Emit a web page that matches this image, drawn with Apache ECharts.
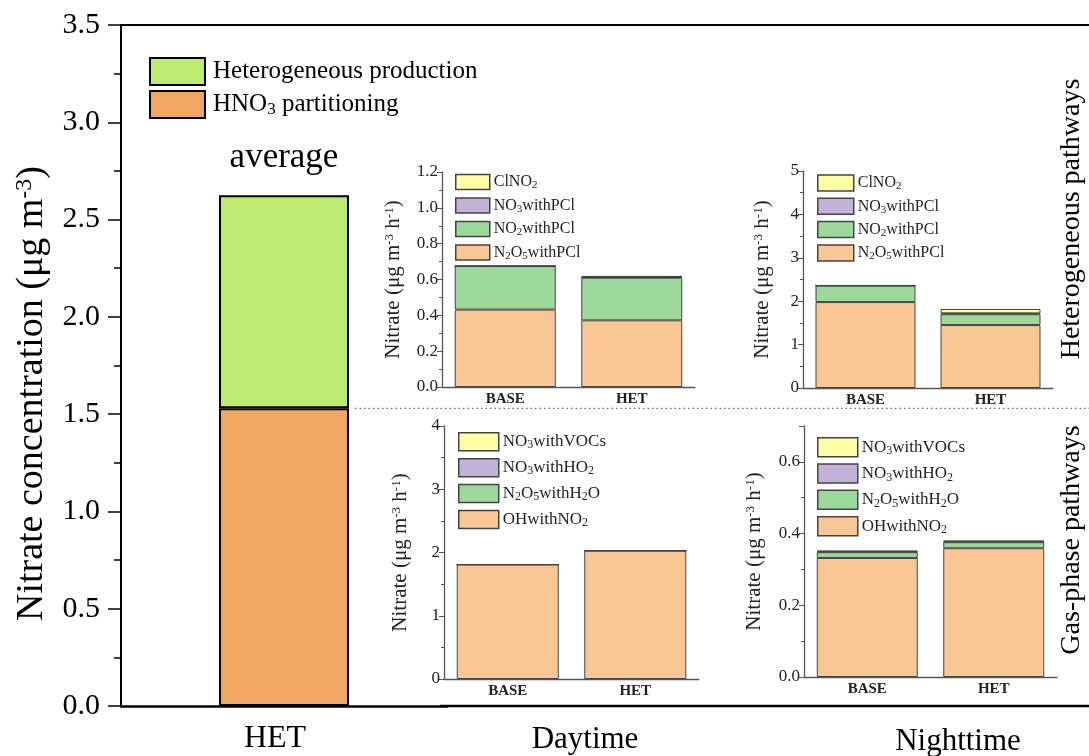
<!DOCTYPE html>
<html>
<head>
<meta charset="utf-8">
<script src="https://cdn.jsdelivr.net/npm/echarts@6/dist/echarts.min.js"></script>
<style>html,body{margin:0;padding:0;background:#fff}#c{width:1089px;height:756px}</style>
</head>
<body>
<div id="c"></div>
<script>
// ---------- data ----------
const mainCats = ['HET'];
const mainHNO3 = [1.53];
const mainHetero = [1.095];
const insetCats = ['BASE', 'HET'];
// Daytime heterogeneous pathways
const dayN2O5PCl = [0.432, 0.372];
const dayNO2PCl = [0.243, 0.238];
const dayNO3PCl = [0.0, 0.003];
const dayClNO2 = [0.0, 0.007];
// Nighttime heterogeneous pathways
const nightN2O5PCl = [1.98, 1.45];
const nightNO2PCl = [0.38, 0.25];
const nightNO3PCl = [0.0, 0.02];
const nightClNO2 = [0.0, 0.10];
// Daytime gas-phase pathways
const dayOHNO2 = [1.81, 2.03];
const dayN2O5H2O = [0.0, 0.0];
const dayNO3HO2 = [0.0, 0.0];
const dayNO3VOCs = [0.0, 0.0];
// Nighttime gas-phase pathways
const nightOHNO2 = [0.332, 0.359];
const nightN2O5H2O = [0.016, 0.017];
const nightNO3HO2 = [0.002, 0.002];
const nightNO3VOCs = [0.002, 0.002];

const hetNames = ['N2O5withPCl', 'NO2withPCl', 'NO3withPCl', 'ClNO2'];
const gasNames = ['OHwithNO2', 'N2O5withH2O', 'NO3withHO2', 'NO3withVOCs'];

// ---------- style ----------
const FONT = "'Liberation Serif','Times New Roman',serif";
const C_PEACH = '#F9C796', C_GREEN = '#9DD89B', C_PURPLE = '#C3B2D8', C_YELLOW = '#FFFFA6';
const insetColors = [C_PEACH, C_GREEN, C_PURPLE, C_YELLOW];

const chart = echarts.init(document.getElementById('c'), null, {renderer: 'canvas'});

function subText(name) { return name.replace(/(\d)/g, '{s|$1}'); }

function insetX(gi) {
  return {
    type: 'category', gridIndex: gi, data: insetCats,
    axisLine: {lineStyle: {color: '#555', width: 1.3}},
    axisTick: {show: false},
    axisLabel: {fontFamily: FONT, fontSize: 15, fontWeight: 'bold', color: '#222', margin: 5}
  };
}
function insetY(gi, max, interval, gap, fmt) {
  return {
    type: 'value', gridIndex: gi, min: 0, max: max, interval: interval,
    name: 'Nitrate (μg m{p|-3} h{p|-1})', nameLocation: 'middle', nameRotate: 90, nameGap: gap,
    nameTextStyle: {fontFamily: FONT, fontSize: 21, color: '#222',
      rich: {p: {fontFamily: FONT, fontSize: 13, verticalAlign: 'top', color: '#222'}}},
    axisLine: {show: true, lineStyle: {color: '#555', width: 1.3}},
    axisTick: {show: true, length: 5, lineStyle: {color: '#555'}},
    minorTick: {show: true, splitNumber: 2, length: 3, lineStyle: {color: '#555'}},
    splitLine: {show: false},
    axisLabel: {fontFamily: FONT, fontSize: 17, color: '#222', margin: 4, formatter: fmt, showMaxLabel: max !== 0.7}
  };
}
function insetSeries(names, arrays, gi, stack, bw) {
  return names.map((n, i) => ({
    name: n, type: 'bar', xAxisIndex: gi, yAxisIndex: gi, stack: stack,
    data: arrays[i], barWidth: bw,
    itemStyle: {color: insetColors[i], borderColor: '#444', borderWidth: 1},
    emphasis: {disabled: true}
  }));
}
function insetLegend(names, left, top, iw, ih, lh, gap, fs) {
  return {
    orient: 'vertical', left: left - 5, top: top - 5, itemWidth: iw, itemHeight: ih, itemGap: gap,
    icon: 'rect', data: names.slice().reverse(),
    selectedMode: false,
    itemStyle: {borderColor: '#444', borderWidth: 1.5},
    formatter: subText,
    textStyle: {fontFamily: FONT, fontSize: fs, color: '#222', lineHeight: lh, padding: [0, 0, 0, -1],
      rich: {s: {fontFamily: FONT, fontSize: Math.round(fs * 0.68), verticalAlign: 'bottom', color: '#222', lineHeight: lh, padding: [4, 0, 0, 0]}}}
  };
}

const option = {
  animation: false,
  backgroundColor: '#fff',
  grid: [
    {left: 121, top: 25, width: 326, height: 681},
    {left: 442, top: 172, width: 253, height: 215},
    {left: 803, top: 171, width: 250, height: 217},
    {left: 444, top: 426, width: 255, height: 253},
    {left: 804, top: 426, width: 253, height: 251}
  ],
  xAxis: [
    {type: 'category', gridIndex: 0, data: mainCats,
     axisLine: {lineStyle: {color: '#000', width: 2.5}}, axisTick: {show: false},
     axisLabel: {fontFamily: FONT, fontSize: 32, color: '#000', margin: 17, padding: [0, 18, 0, 0]}},
    insetX(1), insetX(2), insetX(3), insetX(4)
  ],
  yAxis: [
    {type: 'value', gridIndex: 0, min: 0, max: 3.5, interval: 0.5,
     name: 'Nitrate concentration (μg m{p|-3})', nameLocation: 'middle', nameRotate: 90, nameGap: 70,
     nameTextStyle: {fontFamily: FONT, fontSize: 38, color: '#000', padding: [0, 56, 0, 0],
       rich: {p: {fontFamily: FONT, fontSize: 24, verticalAlign: 'top', color: '#000'}}},
     axisLine: {show: true, lineStyle: {color: '#000', width: 2}},
     axisTick: {show: true, length: 13, lineStyle: {color: '#000', width: 1.5}},
     minorTick: {show: true, splitNumber: 2, length: 7, lineStyle: {color: '#000', width: 1.5}},
     splitLine: {show: false},
     axisLabel: {fontFamily: FONT, fontSize: 30, color: '#000', margin: 21, formatter: v => v.toFixed(1)}},
    insetY(1, 1.2, 0.2, 38, v => v.toFixed(1)),
    insetY(2, 5, 1, 30, v => String(v)),
    insetY(3, 4, 1, 33, v => String(v)),
    insetY(4, 0.7, 0.2, 39, v => v.toFixed(1))
  ],
  legend: [
    {orient: 'vertical', left: 144, top: 52, itemWidth: 55, itemHeight: 27, itemGap: 4, icon: 'rect',
     selectedMode: false, data: ['Heterogeneous production', 'HNO3 partitioning'],
     itemStyle: {borderColor: '#000', borderWidth: 2},
     formatter: subText,
     textStyle: {fontFamily: FONT, fontSize: 25, color: '#000', padding: [0, 0, 0, 3], lineHeight: 27,
       rich: {s: {fontFamily: FONT, fontSize: 17, verticalAlign: 'bottom', color: '#000', lineHeight: 27, padding: [6, 0, 0, 0]}}}},
    insetLegend(hetNames, 455, 173, 34, 15, 18, 5.5, 16),
    insetLegend(hetNames, 817, 174, 36, 16, 18, 5.3, 16),
    insetLegend(gasNames, 458, 432, 40, 18, 19, 6.4, 17),
    insetLegend(gasNames, 817, 437, 40, 19, 20, 5.8, 17)
  ],
  series: [
    {name: 'HNO3 partitioning', type: 'bar', xAxisIndex: 0, yAxisIndex: 0, stack: 'main', data: mainHNO3, barWidth: 130,
     itemStyle: {color: '#F2A664', borderColor: '#000', borderWidth: 2}, emphasis: {disabled: true}},
    {name: 'Heterogeneous production', type: 'bar', xAxisIndex: 0, yAxisIndex: 0, stack: 'main', data: mainHetero, barWidth: 130,
     itemStyle: {color: '#BDEB6F', borderColor: '#000', borderWidth: 2}, emphasis: {disabled: true}},
    ...insetSeries(hetNames, [dayN2O5PCl, dayNO2PCl, dayNO3PCl, dayClNO2], 1, 's1', 101),
    ...insetSeries(hetNames, [nightN2O5PCl, nightNO2PCl, nightNO3PCl, nightClNO2], 2, 's2', 100),
    ...insetSeries(gasNames, [dayOHNO2, dayN2O5H2O, dayNO3HO2, dayNO3VOCs], 3, 's3', 102),
    ...insetSeries(gasNames, [nightOHNO2, nightN2O5H2O, nightNO3HO2, nightNO3VOCs], 4, 's4', 101)
  ],
  graphic: [
    {type: 'line', id: 'topline', shape: {x1: 121, y1: 25, x2: 1089, y2: 25}, style: {stroke: '#000', lineWidth: 2}, silent: true},
    {type: 'line', id: 'botline', shape: {x1: 440, y1: 706, x2: 1089, y2: 706}, style: {stroke: '#000', lineWidth: 2.5}, silent: true},
    {type: 'text', id: 'avg', x: 284, y: 158, style: {text: 'average', font: '35px ' + FONT, fill: '#000', textAlign: 'center', textVerticalAlign: 'middle'}},
    {type: 'text', id: 'day', x: 585, y: 740, style: {text: 'Daytime', font: '31px ' + FONT, fill: '#000', textAlign: 'center', textVerticalAlign: 'middle'}},
    {type: 'text', id: 'night', x: 958, y: 742, style: {text: 'Nighttime', font: '31px ' + FONT, fill: '#000', textAlign: 'center', textVerticalAlign: 'middle'}},
    {type: 'text', id: 'hetpw', x: 1072, y: 219, rotation: Math.PI / 2, style: {text: 'Heterogeneous pathways', font: '28px ' + FONT, fill: '#000', textAlign: 'center', textVerticalAlign: 'middle'}},
    {type: 'text', id: 'gaspw', x: 1072, y: 540, rotation: Math.PI / 2, style: {text: 'Gas-phase pathways', font: '28px ' + FONT, fill: '#000', textAlign: 'center', textVerticalAlign: 'middle'}}
  ]
};
chart.setOption(option);

// dotted separator at the HNO3 partitioning level
const yDot = chart.convertToPixel({yAxisIndex: 0}, mainHNO3[0]);
const xBarRight = chart.convertToPixel({xAxisIndex: 0}, mainCats[0]) + 71;
chart.setOption({graphic: [
  {type: 'line', id: 'dots', shape: {x1: xBarRight, y1: yDot, x2: 1089, y2: yDot},
   style: {stroke: '#666', lineWidth: 1.2, lineDash: [1.5, 3]}, silent: true}
]});
</script>
</body>
</html>
